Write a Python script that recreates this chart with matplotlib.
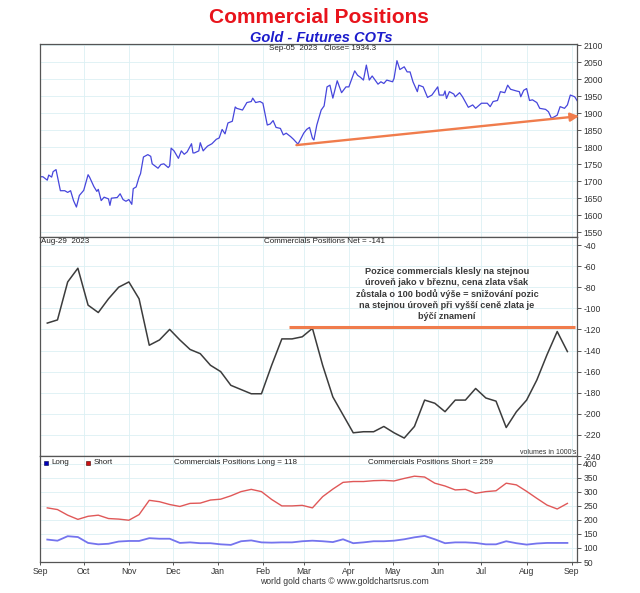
"""Commercial Positions - Gold futures COTs: price, commercials net, long/short."""
import datetime as dt

import matplotlib

matplotlib.use("Agg")
import matplotlib.dates as mdates
import matplotlib.pyplot as plt
import pandas as pd

plt.rcParams["font.family"] = ["Liberation Sans", "DejaVu Sans"]
plt.rcParams["axes.unicode_minus"] = False

START = dt.datetime(2022, 9, 1)
X_END = dt.datetime(2023, 9, 4, 14)

# gold close, sampled off the chart (days since START, price)
price_day = [0, 2, 5, 6, 8, 9, 11, 14, 17, 19, 21, 23, 25, 27, 30, 33, 34, 37, 39, 40,
             42, 44, 47, 48, 49, 51, 53, 55, 57, 59, 61, 63, 64, 66, 68, 69, 71, 74, 76, 77,
             81, 83, 85, 88, 89, 90, 92, 95, 97, 99, 101, 104, 105, 106, 109, 110, 112, 113, 115, 118,
             121, 123, 125, 127, 129, 132, 134, 135, 139, 142, 145, 146, 148, 151, 153, 156, 158, 160, 162, 165,
             167, 169, 172, 174, 177, 178, 181, 183, 185, 187, 188, 190, 193, 195, 197, 199, 201, 204, 206, 207,
             210, 212, 213, 216, 218, 220, 222, 224, 226, 228, 230, 232, 234, 236, 238, 242, 243, 245, 247, 250,
             252, 254, 256, 259, 260, 263, 266, 269, 273, 274, 277, 278, 279, 281, 284, 285, 288, 290, 294, 297,
             299, 303, 307, 309, 311, 314, 316, 319, 321, 323, 327, 329, 330, 332, 334, 336, 338, 341, 343, 347,
             349, 351, 353, 355, 357, 360, 362, 364, 367, 369]
price = [1713, 1713, 1703, 1718, 1712, 1728, 1734, 1672, 1672, 1667, 1672, 1643, 1624, 1658, 1673, 1719, 1712, 1684, 1670, 1676,
         1643, 1653, 1648, 1629, 1650, 1651, 1652, 1663, 1646, 1641, 1646, 1632, 1678, 1683, 1712, 1722, 1771, 1778, 1773, 1751,
         1738, 1749, 1751, 1740, 1745, 1797, 1789, 1767, 1789, 1779, 1786, 1810, 1783, 1783, 1789, 1813, 1789, 1794, 1803, 1810,
         1823, 1827, 1852, 1839, 1871, 1876, 1918, 1914, 1909, 1931, 1934, 1944, 1931, 1934, 1929, 1865, 1868, 1878, 1858, 1855,
         1836, 1841, 1831, 1823, 1809, 1816, 1841, 1852, 1858, 1826, 1821, 1865, 1909, 1921, 1977, 1982, 1944, 1995, 1972, 1960,
         1977, 1977, 1989, 2024, 2011, 2005, 1997, 2041, 1997, 2009, 1997, 1985, 1992, 1987, 1997, 1992, 2002, 2054, 2028, 2036,
         2021, 2021, 1992, 1963, 1982, 1977, 1946, 1953, 1977, 1953, 1953, 1965, 1943, 1963, 1956, 1948, 1960, 1948, 1917, 1924,
         1914, 1929, 1929, 1919, 1934, 1937, 1963, 1960, 1982, 1970, 1965, 1963, 1948, 1967, 1972, 1937, 1939, 1931, 1914, 1911,
         1904, 1885, 1889, 1894, 1919, 1914, 1924, 1953, 1948, 1934.3]

# weekly COT report dates (Tuesdays), thousands of contracts
cot_dates = pd.date_range("2022-09-06", periods=52, freq="7D")
net = [-114, -111, -75, -62, -97, -104, -91, -80, -75, -91, -135, -130, -120, -130, -139, -143, -154, -160, -173, -177,
       -181, -181, -154, -129, -129, -127, -119, -154, -184, -201, -218, -217, -217, -212, -218, -223, -212, -187, -190, -198,
       -187, -187, -176, -185, -188, -213, -198, -187, -168, -144, -122, -141]
long_pos = [130, 126, 142, 139, 118, 113, 115, 123, 125, 125, 135, 133, 133, 118, 120, 117, 117, 113, 111, 124,
            127, 120, 119, 120, 120, 124, 126, 124, 121, 131, 117, 120, 124, 124, 126, 131, 138, 143, 131, 117,
            120, 120, 118, 113, 113, 124, 117, 112, 116, 118, 118, 118]
short_pos = [243, 237, 217, 202, 213, 217, 205, 203, 199, 219, 270, 265, 255, 248, 259, 260, 271, 274, 286, 301,
             309, 301, 273, 250, 250, 252, 243, 283, 310, 334, 337, 337, 340, 341, 339, 348, 356, 353, 331, 321,
             307, 309, 295, 301, 304, 331, 325, 302, 277, 253, 239, 259]

# hand-drawn annotations
trend_dates = [dt.datetime(2023, 2, 24), dt.datetime(2023, 9, 6)]
trend_price = [1806, 1891]
net_level_dates = [dt.datetime(2023, 2, 19), dt.datetime(2023, 9, 3)]
net_level = -118

NOTE = ("Pozice commercials klesly na stejnou\n"
        "úroveň jako v březnu, cena zlata však\n"
        "zůstala o 100 bodů výše = snižování pozic\n"
        "na stejnou úroveň při vyšší ceně zlata je\n"
        "býčí znamení")

ORANGE = "#f07c4c"
GRID = "#dcf0f4"
W, H = 640, 593


def px(x, y):
    return x / W, 1 - y / H


def style(ax, yticks, ylim, bottom=False):
    ax.set_xlim(START, X_END)
    ax.set_ylim(*ylim)
    ax.set_yticks(yticks)
    ax.yaxis.tick_right()
    ax.xaxis.set_major_locator(mdates.MonthLocator())
    ax.xaxis.set_major_formatter(mdates.DateFormatter("%b"))
    ax.grid(True, color=GRID, lw=0.6)
    ax.set_axisbelow(True)
    for s in ax.spines.values():
        s.set_color("#555555")
        s.set_linewidth(0.9)
    ax.tick_params(axis="y", direction="out", length=3, width=0.7, pad=1.5,
                   labelsize=6.2, colors="#555555", labelcolor="#333333")
    if bottom:
        ax.tick_params(axis="x", direction="out", length=2.5, width=0.7, pad=0.8,
                       labelsize=6.2, colors="#555555", labelcolor="#333333")
    else:
        ax.tick_params(axis="x", length=0, labelbottom=False)


fig = plt.figure(figsize=(6.4, 5.93), dpi=100)
ax1 = fig.add_axes([40 / W, 1 - 237 / H, 537 / W, 193 / H])
ax2 = fig.add_axes([40 / W, 1 - 456 / H, 537 / W, 219 / H])
ax3 = fig.add_axes([40 / W, 1 - 562 / H, 537 / W, 106 / H])

# price panel
price_dates = [START + dt.timedelta(days=d) for d in price_day]
ax1.plot(price_dates, price, color="#4646dc", lw=0.9)
style(ax1, range(1550, 2101, 50), (1536, 2103))
ax1.annotate("", xy=(trend_dates[1], trend_price[1]), xytext=(trend_dates[0], trend_price[0]),
             arrowprops=dict(arrowstyle="-|>,head_length=0.5,head_width=0.25", color=ORANGE,
                             lw=1.7, shrinkA=0, shrinkB=0), annotation_clip=False)

# net panel
ax2.plot(cot_dates, net, color="#3c3c3c", lw=1.1)
ax2.plot(net_level_dates, [net_level, net_level], color=ORANGE, lw=2.2, solid_capstyle="butt")
style(ax2, range(-240, -39, 20), (-240, -32.4))

# long / short panel
ax3.plot(cot_dates, short_pos, color="#e05858", lw=1.0)
ax3.plot(cot_dates, long_pos, color="#7474ee", lw=1.3)
style(ax3, range(50, 401, 50), (50, 428), bottom=True)
ax3.plot([0.0117], [0.935], "s", ms=3.5, color="#0000bb", mec="#000044", mew=0.4,
         transform=ax3.transAxes)
ax3.plot([0.0903], [0.935], "s", ms=3.5, color="#cc1111", mec="#440000", mew=0.4,
         transform=ax3.transAxes)

txt = dict(fontsize=5.8, color="#222222", va="center")
fig.text(*px(319, 17.5), "Commercial Positions", ha="center", va="center",
         fontsize=15, fontweight="bold", color="#e8141c")
fig.text(*px(321, 37.5), "Gold - Futures COTs", ha="center", va="center",
         fontsize=10.5, fontweight="bold", fontstyle="italic", color="#1c1ccc")
fig.text(*px(323, 49), f"Sep-05  2023   Close= {price[-1]:.1f}", ha="center", **txt)
fig.text(*px(41, 242), "Aug-29  2023", ha="left", **txt)
fig.text(*px(325, 242), f"Commercials Positions Net = {net[-1]}", ha="center", **txt)
fig.text(*px(447, 294), NOTE, ha="center", va="center", fontsize=6.6, fontweight="bold",
         color="#3a3a3a", linespacing=1.3)
fig.text(*px(576, 453), "volumes in 1000's", ha="right", va="center", fontsize=5, color="#333333")
fig.text(*px(51, 463), "Long", ha="left", **txt)
fig.text(*px(93.5, 463), "Short", ha="left", **txt)
fig.text(*px(236, 462), f"Commercials Positions Long = {long_pos[-1]}", ha="center", **txt)
fig.text(*px(430, 462), f"Commercials Positions Short = {short_pos[-1]}", ha="center", **txt)
fig.text(*px(344.5, 582), "world gold charts © www.goldchartsrus.com", ha="center",
         va="center", fontsize=6.2, color="#333333")

fig.savefig("out.png", dpi=100)
